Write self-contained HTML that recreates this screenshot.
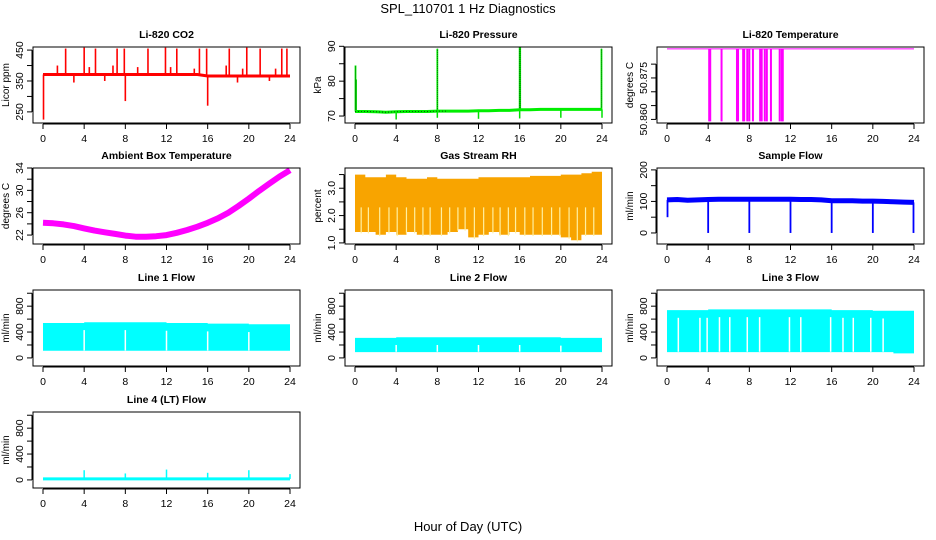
<!DOCTYPE html>
<html><head><meta charset="utf-8">
<style>
html,body{margin:0;padding:0;background:#fff;}
svg{display:block;font-family:"Liberation Sans",Arial,sans-serif;}
</style></head>
<body>
<svg id="chart" width="936" height="540" viewBox="0 0 936 540">
<text x="468" y="13" text-anchor="middle" font-size="13">SPL_110701  1 Hz Diagnostics</text>
<text x="468" y="531" text-anchor="middle" font-size="13">Hour of Day (UTC)</text>
</svg>
<script>
// ---------- data ----------
const xTicks = [0,4,8,12,16,20,24];
const hourGrid = [0,1,2,3,4,5,6,7,8,9,10,11,12,13,14,15,16,17,18,19,20,21,22,23,24];

const co2Level = [371,371,371,371,371,371,371,371,371,371,371,371,371,371,371,371,366,366,366,366,366,366,366,366,366];
const co2SpikeHours = [0.05,2.2,4.0,5.1,7.2,7.9,8.0,10.2,11.9,13.0,15.2,15.9,16.0,18.1,19.8,21.1,23.2,23.7,1.4,4.5,6.8,9.2,12.4,14.7,17.8,19.4,22.6,3.0,6.0,18.9,22.0];
const co2SpikeVals  = [225,455,458,455,455,455,285,455,458,455,455,455,270,455,458,455,455,455,400,395,400,395,395,390,400,390,390,345,350,345,350];

const presLevel = [71.3,71.3,71.2,71.1,71.2,71.3,71.3,71.3,71.4,71.4,71.4,71.4,71.5,71.5,71.6,71.6,71.8,71.8,71.9,71.9,71.9,71.9,71.9,71.9,71.9];
const presSpikeHours = [0.05,0.1,8,16,16.05,23.95];
const presSpikeVals  = [84.5,80.5,89.3,89.8,89.8,89.3];
const presDipHours = [4,8,12,16,20,24];
const presDipVals  = [69,69.5,69.2,69.3,69.5,69.5];

const tempLevel = 50.8855;
const tempDropHours = [4.1,4.2,5.3,6.8,6.9,7.4,7.5,7.8,8.0,8.35,9.05,9.2,9.5,9.7,10.1,10.95,11.15,11.25];
const tempDropVal = 50.8593;

const ambTemp = [24.2,24.1,23.9,23.6,23.2,22.8,22.5,22.2,21.9,21.7,21.7,21.8,22.0,22.4,22.9,23.5,24.2,25.0,26.0,27.2,28.5,29.9,31.2,32.5,33.6];

const rhTop = [3.5,3.4,3.4,3.5,3.4,3.35,3.35,3.4,3.35,3.35,3.35,3.35,3.4,3.4,3.4,3.4,3.4,3.45,3.45,3.45,3.5,3.5,3.55,3.6];
const rhBot = [1.4,1.4,1.3,1.4,1.3,1.4,1.3,1.3,1.3,1.4,1.5,1.2,1.3,1.4,1.3,1.4,1.3,1.3,1.3,1.3,1.2,1.1,1.3,1.3];
const rhSlits = [0.6,1.3,2.4,3.3,4.1,5.0,5.8,6.6,7.3,8.4,9.2,10.0,10.7,11.6,12.5,13.4,14.1,14.9,15.6,16.5,17.3,18.2,19.1,19.9,20.8,21.6,22.4,23.2];

const sfLevel = [105,106,104,105,106,107,107,107,107,107,107,107,107,106,106,105,102,102,102,101,101,100,99,98,97];
const sfDipHours = [0.05,4,8,12,16,20,23.95];
const sfDipVals  = [50,0,0,0,0,0,0];

const l1Top = [540,540,540,540,550,550,550,550,550,550,550,550,540,540,540,540,530,530,530,530,520,520,520,520];
const l1Bot = [110,110,110,110,110,110,110,110,110,110,110,110,110,110,110,110,110,110,110,110,110,110,110,110];
const l1Gaps = [4,8,12,16,20];
const l2Top = [310,310,310,310,320,320,320,320,320,320,320,320,320,320,320,320,320,320,320,320,310,310,310,310];
const l2Bot = [90,90,90,90,90,90,90,90,90,90,90,90,90,90,90,90,90,90,90,90,90,90,90,90];
const l2Gaps = [4,8,12,16,20];
const l3Top = [740,740,740,740,750,750,750,750,750,750,750,750,750,750,750,750,740,740,740,740,730,730,730,730];
const l3Bot = [90,90,90,90,90,90,90,90,90,90,90,90,90,90,90,90,90,90,90,90,90,90,70,70];
const l3Gaps = [1.1,3.2,3.9,5.1,6.1,7.8,9.0,11.9,13.0,15.9,17.1,18.1,19.8,21.0];
const l4Level = 15;
const l4SpikeHours = [4,8,12,16,20,24];
const l4SpikeVals = [150,100,160,110,150,90];

// ---------- layout ----------
const NS = "http://www.w3.org/2000/svg";
const svg = document.getElementById('chart');
const colL = [33,345,657], colW = 267;
const rowT = [47,168,290,412], rowH = 76;

function mk(tag, attrs, parent){
  const e = document.createElementNS(NS, tag);
  for (const k in attrs) e.setAttribute(k, attrs[k]);
  (parent||svg).appendChild(e);
  return e;
}

function panel(name, title, ylab, col, row, ymin, ymax, yticks, ylabels){
  const g = mk('g', {});
  
  
  const L = colL[col], T = rowT[row], B = T + rowH, R = L + colW;
  const xs = h => L + 10 + h * (colW - 20) / 24;
  const ys = v => B - (v - ymin) / (ymax - ymin) * rowH;
  const plot = mk('g', {}, g);
  
  
  const p = {g, plot, xs, ys, L, T, B, R};
  p.finish = function(){
    const box = mk('rect', {x:L, y:T, width:colW, height:rowH, fill:'none', stroke:'#000', 'stroke-width':1}, g);
    
    
    const t = mk('text', {x:(L+R)/2, y:T-9, 'text-anchor':'middle', 'font-size':10.5, 'font-weight':'bold'}, g);
    t.textContent = title;
    
    
    const xa = mk('g', {}, g);
    
    
    mk('line', {x1:xs(xTicks[0]), x2:xs(xTicks[xTicks.length-1]), y1:B+1, y2:B+1, stroke:'#000'}, xa);
    xTicks.forEach(h => {
      mk('line', {x1:xs(h), x2:xs(h), y1:B+1, y2:B+6, stroke:'#000'}, xa);
      const tl = mk('text', {x:xs(h), y:B+19, 'text-anchor':'middle', 'font-size':10.5}, xa);
      tl.textContent = h;
      
      
    });
    const ya = mk('g', {}, g);
    
    
    mk('line', {x1:L-1, x2:L-1, y1:ys(yticks[0]), y2:ys(yticks[yticks.length-1]), stroke:'#000'}, ya);
    yticks.forEach((v,i) => {
      mk('line', {x1:L-6, x2:L-1, y1:ys(v), y2:ys(v), stroke:'#000'}, ya);
      if (ylabels[i] !== '') {
        const yl = mk('text', {x:0, y:0, 'text-anchor':'middle', 'font-size':10.5,
          transform:'translate(' + (L-10) + ',' + ys(v) + ') rotate(-90)'}, ya);
        yl.textContent = ylabels[i];
        
        
      }
    });
    const yt = mk('text', {x:0, y:0, 'text-anchor':'middle', 'font-size':10,
      transform:'translate(' + (L-24) + ',' + (T+rowH/2) + ') rotate(-90)'}, g);
    yt.textContent = ylab;
    
    
  };
  return p;
}
function polyline(p, hs, vs, attrs, nm){
  const pts = hs.map((h,i) => p.xs(h).toFixed(1) + ',' + p.ys(vs[i]).toFixed(1)).join(' ');
  const e = mk('polyline', Object.assign({points:pts, fill:'none'}, attrs), p.plot);
  
  
  return e;
}
function vseg(p, h, v0, v1, attrs, nm){
  const e = mk('line', Object.assign({x1:p.xs(h), x2:p.xs(h), y1:p.ys(v0), y2:p.ys(v1)}, attrs), p.plot);
  
  
  return e;
}
function band(p, top, bot, fill, nm){
  const up = [], dn = [];
  top.forEach((v,i) => { up.push(p.xs(i).toFixed(1)+','+p.ys(v).toFixed(1)); up.push(p.xs(i+1).toFixed(1)+','+p.ys(v).toFixed(1)); });
  for (let i = bot.length-1; i >= 0; i--) { dn.push(p.xs(i+1).toFixed(1)+','+p.ys(bot[i]).toFixed(1)); dn.push(p.xs(i).toFixed(1)+','+p.ys(bot[i]).toFixed(1)); }
  const e = mk('polygon', {points: up.concat(dn).join(' '), fill: fill}, p.plot);
  
  
}

// 1 CO2
let p = panel('co2-panel', 'Li-820 CO2', 'Licor ppm', 0, 0, 214, 460, [250,300,350,400,450], ['250','','350','','450']);
co2SpikeHours.forEach((h,i) => vseg(p, h, co2Level[Math.min(24, Math.round(h))], co2SpikeVals[i], {stroke:'#ff0000','stroke-width':1.6}, 'co2-spike'));
polyline(p, hourGrid, co2Level, {stroke:'#ff0000','stroke-width':3}, 'co2-line');
p.finish();

// 2 Pressure
p = panel('pressure-panel', 'Li-820 Pressure', 'kPa', 1, 0, 68, 89.8, [70,75,80,85,90], ['70','','80','','90']);
presDipHours.forEach((h,i) => vseg(p, h, presLevel[Math.min(24,Math.round(h))], presDipVals[i], {stroke:'#00e000','stroke-width':1.5}, 'pressure-dip'));
presSpikeHours.forEach((h,i) => vseg(p, h, presLevel[Math.min(24,Math.round(h))], presSpikeVals[i], {stroke:'#00ee00','stroke-width':1.8}, 'pressure-spike'));
presSpikeHours.forEach((h,i) => vseg(p, h, presLevel[Math.min(24,Math.round(h))], presSpikeVals[i], {stroke:'#004000','stroke-width':0.7,'stroke-dasharray':'1,1'}, 'pressure-spike-dots'));
polyline(p, hourGrid, presLevel, {stroke:'#00ee00','stroke-width':3}, 'pressure-line');
polyline(p, hourGrid.slice(0,10), presLevel.slice(0,10), {stroke:'#003000','stroke-width':0.8,'stroke-dasharray':'1,2'}, 'pressure-line-dots');
p.finish();

// 3 Temperature
p = panel('licor-temp-panel', 'Li-820 Temperature', 'degrees C', 2, 0, 50.8587, 50.8862, [50.860,50.865,50.870,50.875,50.880], ['50.860','','','50.875','']);
polyline(p, [0,24], [tempLevel,tempLevel], {stroke:'#ff00ff','stroke-width':1}, 'licor-temp-line');
tempDropHours.forEach(h => vseg(p, h, tempLevel, tempDropVal, {stroke:'#ff00ff','stroke-width':2}, 'licor-temp-drop'));
p.finish();

// 4 Ambient
p = panel('ambient-temp-panel', 'Ambient Box Temperature', 'degrees C', 0, 1, 20.4, 34.0, [22,24,26,28,30,32,34], ['22','','26','','30','','34']);
polyline(p, hourGrid, ambTemp, {stroke:'#ff00ff','stroke-width':6,'stroke-linejoin':'round'}, 'ambient-temp-line');
p.finish();

// 5 RH
p = panel('rh-panel', 'Gas Stream RH', 'percent', 1, 1, 0.96, 3.74, [1.0,1.5,2.0,2.5,3.0,3.5], ['1.0','','2.0','','3.0','']);
band(p, rhTop, rhBot, '#f8a400', 'rh-band');
rhSlits.forEach((h,i) => vseg(p, h, rhBot[Math.min(23,Math.floor(h))] - 0.05, 2.3, {stroke:'#fff0a0','stroke-width':1.2}, 'rh-slit'));
p.finish();

// 6 Sample flow
p = panel('sample-flow-panel', 'Sample Flow', 'ml/min', 2, 1, -35, 206, [0,50,100,150,200], ['0','','100','','200']);
sfDipHours.forEach((h,i) => vseg(p, h, sfLevel[Math.min(24,Math.round(h))], sfDipVals[i], {stroke:'#0000ff','stroke-width':1.8}, 'sample-flow-dip'));
polyline(p, hourGrid, sfLevel, {stroke:'#0000ff','stroke-width':5}, 'sample-flow-line');
p.finish();

// 7-9 line flows
const flowTicks = [0,200,400,600,800,1000], flowLabels = ['0','','400','','800',''];
function flowPanel(name, title, col, row, top, bot, gaps){
  const q = panel(name, title, 'ml/min', col, row, -125, 1050, flowTicks, flowLabels);
  band(q, top, bot, '#00ffff', name + '-band');
  gaps.forEach(h => vseg(q, h, top[Math.min(23,Math.floor(h))] - 120, bot[Math.min(23,Math.floor(h))] + 5, {stroke:'#ffffff','stroke-width':1.5}, name + '-gap'));
  q.finish();
}
flowPanel('line1-flow-panel', 'Line 1 Flow', 0, 2, l1Top, l1Bot, l1Gaps);
flowPanel('line2-flow-panel', 'Line 2 Flow', 1, 2, l2Top, l2Bot, l2Gaps);
flowPanel('line3-flow-panel', 'Line 3 Flow', 2, 2, l3Top, l3Bot, l3Gaps);

// 10 Line 4
p = panel('line4-flow-panel', 'Line 4 (LT) Flow', 'ml/min', 0, 3, -125, 1050, flowTicks, flowLabels);
l4SpikeHours.forEach((h,i) => vseg(p, h, l4Level, l4SpikeVals[i], {stroke:'#00ffff','stroke-width':1.5}, 'line4-spike'));
polyline(p, [0,24], [l4Level,l4Level], {stroke:'#00ffff','stroke-width':3}, 'line4-line');
p.finish();
</script>
</body></html>
